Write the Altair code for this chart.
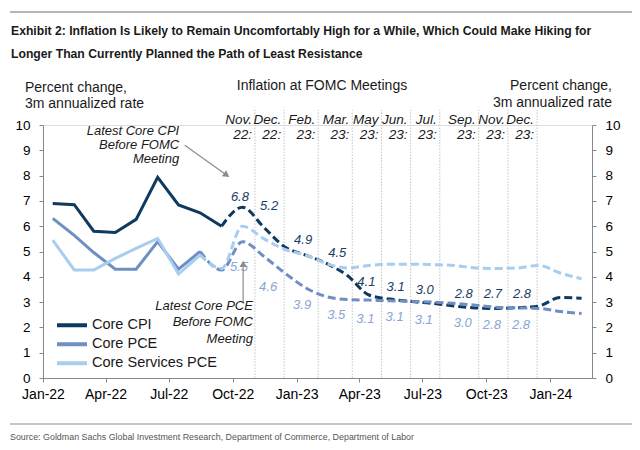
import altair as alt
import pandas as pd

# ---------------- data ----------------
series_names = ["Core CPI", "Core PCE", "Core Services PCE"]
series_colors = ["#0f3a60", "#6f8ec2", "#a9cdee"]

def mid_months(start, n):
    return [d.strftime("%Y-%m-15T00:00:00") for d in pd.date_range(start, periods=n, freq="MS")]

# actual (solid) data
cpi_actual_dates = mid_months("2022-01-01", 9)
cpi_actual = [6.9, 6.85, 5.8, 5.75, 6.27, 7.93, 6.84, 6.53, 6.0]
pce_actual_dates = mid_months("2022-01-01", 8)
pce_actual = [6.31, 5.64, 4.96, 4.3, 4.3, 5.39, 4.3, 5.0]
svc_actual = [5.45, 4.27, 4.27, 4.73, 5.12, 5.52, 4.11, 4.86]

# forecast (dashed) path
cpi_fcst_dates = mid_months("2022-09-01", 18)
cpi_fcst = [6.0, 6.75, 5.95, 5.18, 4.85, 4.5, 4.05, 3.28, 3.12, 3.02, 2.95, 2.85,
            2.77, 2.75, 2.78, 2.84, 3.18, 3.15]
pce_fcst_dates = mid_months("2022-08-01", 19)
pce_fcst = [5.0, 4.27, 5.39, 4.8, 4.15, 3.55, 3.2, 3.1, 3.08, 3.05, 3.03, 3.0,
            2.95, 2.88, 2.8, 2.77, 2.75, 2.63, 2.55]
svc_fcst = [4.86, 4.33, 6.0, 5.5, 5.08, 4.85, 4.5, 4.35, 4.45, 4.5, 4.5, 4.48,
            4.45, 4.35, 4.33, 4.35, 4.45, 4.15, 3.92]

# FOMC meetings
meeting_dates = ["2022-11-02", "2022-12-14", "2023-02-01", "2023-03-22", "2023-05-03",
                 "2023-06-14", "2023-07-26", "2023-09-20", "2023-11-01", "2023-12-13"]
meeting_names = ["Nov.\n22:", "Dec.\n22:", "Feb.\n23:", "Mar.\n23:", "May\n23:",
                 "Jun.\n23:", "Jul.\n23:", "Sep.\n23:", "Nov.\n23:", "Dec.\n23:"]
cpi_at_meeting = ["6.8", "5.2", "4.9", "4.5", "4.1", "3.1", "3.0", "2.8", "2.7", "2.8"]
cpi_label_y = [7.15, 6.8, 5.45, 4.94, 3.79, 3.6, 3.48, 3.32, 3.32, 3.32]
pce_at_meeting = ["5.5", "4.6", "3.9", "3.5", "3.1", "3.1", "3.1", "3.0", "2.8", "2.8"]
pce_label_y = [4.39, 3.6, 2.89, 2.49, 2.33, 2.41, 2.29, 2.17, 2.09, 2.09]

x_ticks = ["2022-01", "2022-04", "2022-07", "2022-10", "2023-01",
           "2023-04", "2023-07", "2023-10", "2024-01"]
y_ticks = list(range(0, 11))

title_text = ("Exhibit 2: Inflation Is Likely to Remain Uncomfortably High for a While, Which Could Make Hiking for\n"
              "Longer Than Currently Planned the Path of Least Resistance")
source_text = "Source: Goldman Sachs Global Investment Research, Department of Commerce, Department of Labor"

# ---------------- tables ----------------
def local(s):
    return s if "T" in s else s + "T00:00:00"

actual_rows = []
for name, dates, vals in [("Core CPI", cpi_actual_dates, cpi_actual),
                          ("Core PCE", pce_actual_dates, pce_actual),
                          ("Core Services PCE", pce_actual_dates, svc_actual)]:
    for d, v in zip(dates, vals):
        actual_rows.append({"series": name, "date": d, "value": v})
df_actual = pd.DataFrame(actual_rows)

fcst_rows = []
for name, dates, vals in [("Core CPI", cpi_fcst_dates, cpi_fcst),
                          ("Core PCE", pce_fcst_dates, pce_fcst),
                          ("Core Services PCE", pce_fcst_dates, svc_fcst)]:
    for d, v in zip(dates, vals):
        fcst_rows.append({"series": name, "date": d, "value": v})
df_fcst = pd.DataFrame(fcst_rows)

df_meet = pd.DataFrame({
    "date": [local(d) for d in meeting_dates],
    "name": meeting_names,
    "cpi": cpi_at_meeting, "cpi_y": cpi_label_y,
    "pce": pce_at_meeting, "pce_y": pce_label_y,
})

df_notes = pd.DataFrame({
    "date": ["2022-07-16T00:00:00"],
    "value": [10.0],
    "text": ["Latest Core CPI\nBefore FOMC\nMeeting"],
})
df_notes2 = pd.DataFrame({
    "date": ["2022-10-30T00:00:00"],
    "value": [3.1],
    "text": ["Latest Core PCE\nBefore FOMC\nMeeting"],
})
df_arrows = pd.DataFrame({
    "date": ["2022-07-24T00:00:00", "2022-10-16T00:00:00"],
    "value": [9.2, 3.0],
    "date2": ["2022-09-21T00:00:00", "2022-10-16T00:00:00"],
    "value2": [8.04, 4.47],
    "angle": [126, 0],
})

FONT = "Liberation Sans"
GRAY = "#9a9a9a"

x_scale = alt.Scale(domain=[alt.DateTime(year=2022, month=1, date=1),
                            alt.DateTime(year=2024, month=3, date=1)])
x_axis = alt.Axis(title=None, values=[alt.DateTime(year=int(t[:4]), month=int(t[5:]), date=1) for t in x_ticks],
                  format="%b-%y", labelFontSize=14, tickSize=4, labelPadding=5,
                  grid=False, labelOverlap=False, labelFlush=False)
y_scale = alt.Scale(domain=[0, 10], nice=False)
y_axis = alt.Axis(title=None, values=y_ticks, labelFontSize=13.5, tickSize=4,
                  labelPadding=9, grid=False)

X = alt.X("date:T", scale=x_scale, axis=x_axis)
Y = alt.Y("value:Q", scale=y_scale, axis=y_axis)

color = alt.Color("series:N",
                  scale=alt.Scale(domain=series_names, range=series_colors),
                  legend=alt.Legend(title=None, orient="none", legendX=12, legendY=191,
                                    symbolType="stroke", symbolSize=900,
                                    symbolStrokeWidth=4, labelFontSize=14.5,
                                    labelFont=FONT, labelColor="#1a1a1a",
                                    labelOffset=3, clipHeight=18.5, rowPadding=0,
                                    padding=0))
color_nolegend = alt.Color("series:N",
                           scale=alt.Scale(domain=series_names, range=series_colors),
                           legend=None)

meet_rules = alt.Chart(df_meet).mark_rule(color="#c4c4c4", strokeWidth=1,
                                           strokeDash=[1.5, 1.5]).encode(
    x=alt.X("date:T", scale=x_scale, axis=x_axis),
    y=alt.Y(datum=0, scale=y_scale, axis=y_axis, type="quantitative"),
    y2=alt.datum(10.6),
)

solid = alt.Chart(df_actual).mark_line(strokeWidth=3).encode(x=X, y=Y, color=color)
dashed = alt.Chart(df_fcst).mark_line(strokeWidth=3, strokeDash=[8, 4],
                                      interpolate="monotone").encode(
    x=X, y=Y, color=color_nolegend)

cpi_labels = alt.Chart(df_meet).mark_text(align="right", dx=-6, baseline="middle",
                                           fontStyle="italic", fontSize=13,
                                           font=FONT, color="#1b3d63").encode(
    x=X, y=alt.Y("cpi_y:Q", scale=y_scale, axis=y_axis), text="cpi:N")
pce_labels = alt.Chart(df_meet).mark_text(align="right", dx=-7, baseline="middle",
                                           fontStyle="italic", fontSize=13,
                                           font=FONT, color="#8aa5d2").encode(
    x=X, y=alt.Y("pce_y:Q", scale=y_scale, axis=y_axis), text="pce:N")
meet_names = alt.Chart(df_meet).mark_text(align="right", dx=-3, baseline="top",
                                           fontStyle="italic", fontSize=13.5,
                                           lineHeight=15, lineBreak="\n",
                                           font=FONT, color="#1a1a1a").encode(
    x=X, y=alt.value(-12), text="name:N")

note1 = alt.Chart(df_notes).mark_text(align="right", baseline="top", fontStyle="italic",
                                      fontSize=13, lineHeight=14, lineBreak="\n",
                                      font=FONT, color="#1a1a1a").encode(
    x=X, y=Y, text="text:N")
note2 = alt.Chart(df_notes2).mark_text(align="right", baseline="top", fontStyle="italic",
                                       fontSize=13, lineHeight=16.5, lineBreak="\n",
                                       font=FONT, color="#1a1a1a").encode(
    x=X, y=Y, text="text:N")

arrow_lines = alt.Chart(df_arrows).mark_rule(color="#8c8c8c", strokeWidth=1.2).encode(
    x=X, y=Y, x2="date2:T", y2="value2:Q")
arrow_heads = alt.Chart(df_arrows).mark_point(shape="triangle", filled=True, size=55,
                                              color="#8c8c8c", opacity=1).encode(
    x=alt.X("date2:T", scale=x_scale, axis=x_axis),
    y=alt.Y("value2:Q", scale=y_scale, axis=y_axis),
    angle=alt.Angle("angle:Q", scale=None))

one = pd.DataFrame({"t": [title_text]})
title = alt.Chart(one).mark_text(align="left", baseline="middle", fontSize=12.2,
                                 fontWeight="bold", font=FONT,
                                 lineHeight=23, lineBreak="\n", color="#1a1a1a").encode(
    x=alt.value(-32), y=alt.value(-94), text="t:N")
src = alt.Chart(pd.DataFrame({"t": [source_text]})).mark_text(
    align="left", baseline="middle", fontSize=8.9, font=FONT,
    color="#555555").encode(x=alt.value(-33), y=alt.value(312), text="t:N")
top_line = alt.Chart(pd.DataFrame({"a": [0]})).mark_rule(color="#b5b5b5", strokeWidth=2).encode(
    x=alt.value(-33), x2=alt.value(589), y=alt.value(-113))
bot_line = alt.Chart(pd.DataFrame({"a": [0]})).mark_rule(color="#b5b5b5", strokeWidth=1.5).encode(
    x=alt.value(-33), x2=alt.value(589), y=alt.value(299))

left_title = alt.Chart(pd.DataFrame({"t": ["Percent change,\n3m annualized rate"]})).mark_text(
    align="left", baseline="middle", fontSize=14, lineHeight=15.5, lineBreak="\n",
    font=FONT, color="#1a1a1a").encode(x=alt.value(-18), y=alt.value(-37), text="t:N")
right_title = alt.Chart(pd.DataFrame({"t": ["Percent change,\n3m annualized rate"]})).mark_text(
    align="right", baseline="middle", fontSize=14, lineHeight=17, lineBreak="\n",
    font=FONT, color="#1a1a1a").encode(x=alt.value(569), y=alt.value(-39), text="t:N")
mid_title = alt.Chart(pd.DataFrame({"t": ["Inflation at FOMC Meetings"]})).mark_text(
    align="center", baseline="middle", fontSize=14, font=FONT, color="#1a1a1a").encode(
    x=alt.value(279), y=alt.value(-39), text="t:N")

main = alt.layer(meet_rules, solid, dashed, cpi_labels, pce_labels, meet_names,
                 note1, note2, arrow_lines, arrow_heads, title, src, top_line, bot_line,
                 left_title, right_title, mid_title)

right_axis = alt.Chart(df_actual).mark_line(opacity=0).encode(
    x=X,
    y=alt.Y("value:Q", scale=alt.Scale(domain=[0, 10], nice=False),
            axis=alt.Axis(title=None, orient="right", values=y_ticks, labelFontSize=13.5,
                          tickSize=4, labelPadding=9, grid=False)),
    detail="series:N")

chart = alt.layer(main, right_axis).resolve_scale(y="independent").properties(
    width=549, height=253,
    autosize=alt.AutoSizeParams(type="none"),
    padding={"left": 35, "top": 117, "right": 40, "bottom": 64},
).configure_view(stroke=None).configure_axis(
    domainColor=GRAY, tickColor=GRAY, domainWidth=1.5, tickWidth=1.2,
    labelColor="#1a1a1a", labelFont=FONT, grid=False,
).configure(font=FONT)

chart.save("out.html", embed_options={"renderer": "svg", "actions": False})
